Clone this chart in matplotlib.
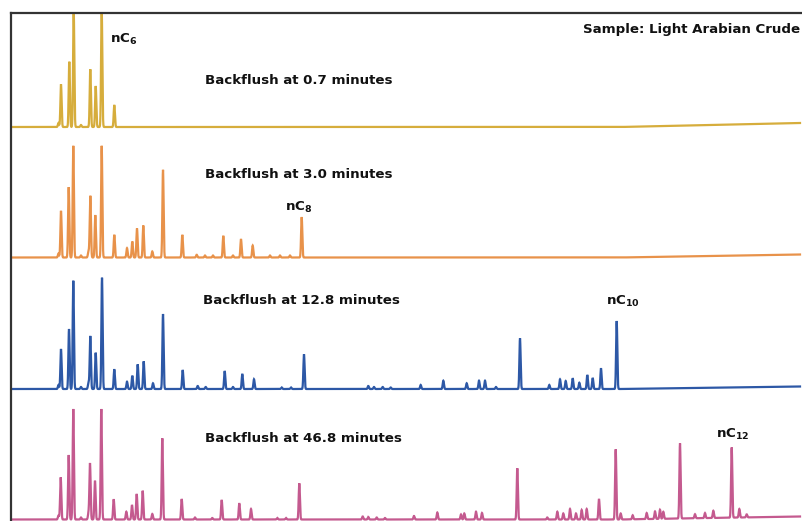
import numpy as np
import matplotlib
matplotlib.use("Agg")
import matplotlib.pyplot as plt

W, H = 803, 521
plt.rcParams['font.family'] = ['DejaVu Sans']
plt.rcParams['mathtext.fontset'] = 'dejavusans'

# ---- data: peak retention positions (arbitrary time units) and heights ----
yellow_pos = [58.5, 61, 69.3, 73.7, 81, 90.3, 95.7, 101.7, 114.3]
yellow_h = [4, 42.7, 65.3, 118, 2, 57.7, 41, 118, 22]

orange_pos = [58.5, 61, 68.7, 73.3, 81, 88.5, 90.3, 95.3, 101.7, 114.3, 127, 132.3, 137, 143.3,
              152.3, 163, 182.3, 196.7, 205, 213, 223.3, 233, 241, 252.7, 270, 280, 290, 301.7]
orange_h = [4, 46.7, 70.4, 111.7, 2, 6, 61.7, 42.4, 111.7, 22.7, 9.4, 16, 29, 32,
            6, 87.7, 22.7, 2.7, 2, 2, 21.7, 2, 18.4, 12, 2, 2, 2, 40.4]

blue_pos = [58.5, 61, 69, 73.3, 81, 88.5, 90.3, 95.7, 102, 114.3, 127, 132.3, 137.7, 143.7, 153,
            163, 182.7, 197.7, 205.7, 224.7, 233, 242.3, 254, 281.7, 291, 304, 368.3, 374,
            382.7, 390.7, 420.7, 443.3, 466.7, 479, 485, 496, 520, 549.3, 560, 565.7, 572.7,
            579.3, 587.3, 592.7, 601, 616.7]
blue_h = [4, 40, 60, 108.3, 2, 6, 53, 36.3, 111.3, 19.7, 7.3, 13.3, 24.7, 27.7, 5.7,
          75, 19, 3, 2, 18, 2, 15, 9.7, 1.5, 1.5, 34.7, 3, 2,
          2, 1.5, 4, 8.3, 5.7, 8.3, 8.3, 2, 50.7, 4, 9.7, 8, 10.7,
          6.3, 14, 11, 20.7, 68]

pink_pos = [58.5, 60.7, 68.7, 73.3, 81, 88.5, 90, 95, 101.3, 113.7, 126.3, 132, 136.7, 142.7,
            152.3, 162.3, 181.7, 195, 212.3, 221.7, 239.3, 251, 277.3, 286, 299.3, 362.7,
            368.3, 376.7, 385, 414, 437.3, 461, 464.3, 476, 482, 517.3, 547.3, 557.3, 563.3,
            570, 576, 581.7, 586.7, 599, 615.7, 620.7, 632.7, 646.7, 655, 660, 663.3, 680,
            695, 705, 713.3, 731.7, 739.3, 746.7]
pink_h = [4, 42.2, 64.5, 110.5, 2, 6, 56.2, 38.8, 110.5, 20.2, 7.8, 14.5, 25.5, 28.8,
          5.5, 81.2, 20.5, 2, 1.5, 19.5, 16.2, 10.5, 1.5, 1.5, 36.2, 3,
          2.5, 2, 1.5, 3.5, 7, 5, 6, 7.8, 6.5, 51.2, 2, 7.8, 6,
          10.5, 6, 9.5, 10.5, 20.5, 70.2, 6, 4, 6, 7.5, 9, 7, 75.2,
          4, 5, 7.2, 70.2, 8.5, 3]

baseline_rise = [4, 3, 2.5, 3]   # baseline drift reached at the end of the run

labels = ["Backflush at 0.7 minutes", "Backflush at 3.0 minutes",
          "Backflush at 12.8 minutes", "Backflush at 46.8 minutes"]
carbon_labels = [r"nC$_{\mathbf{6}}$", r"nC$_{\mathbf{8}}$", r"nC$_{\mathbf{10}}$", r"nC$_{\mathbf{12}}$"]
sample_label = "Sample: Light Arabian Crude"

colors = ["#d6ad3c", "#e8924a", "#2d58a6", "#c45a8f"]

# ---- figure ----
fig = plt.figure(figsize=(W / 100, H / 100), dpi=100)

def fx(px):
    return px / W

def fy(py):
    return 1 - py / H

x0, x1 = 11, 803
baselines_px = [127, 257.5, 389, 519.5]
unit_px = 115.0

t = np.arange(x0, x1, 0.1)
series = [(yellow_pos, yellow_h), (orange_pos, orange_h), (blue_pos, blue_h), (pink_pos, pink_h)]

for i, (pos, hts) in enumerate(series):
    bpx = baselines_px[i]
    ax = fig.add_axes([fx(x0), fy(bpx) - 1.5 / H, fx(x1) - fx(x0), unit_px / H])
    ax.set_xlim(x0, x1)
    ax.set_ylim(-1.5, unit_px - 1.5)
    ax.axis('off')
    y = np.zeros_like(t)
    for p, h in zip(pos, hts):
        y += h * np.exp(-0.5 * ((t - p) / 0.6) ** 2)
    drift = np.clip((t - 620) / (800 - 620), 0, None) * baseline_rise[i]
    y += drift
    mask = t <= 800
    ax.plot(t[mask], y[mask], color=colors[i], lw=1.6, solid_joinstyle='miter')

# frame
frame = fig.add_axes([fx(x0), 0, 1 - fx(x0), fy(13)])
frame.patch.set_alpha(0)
frame.set_xticks([]); frame.set_yticks([])
for s in ['right', 'bottom']:
    frame.spines[s].set_visible(False)
for s in ['left', 'top']:
    frame.spines[s].set_color('#333333')
    frame.spines[s].set_linewidth(1.6)

fs = 9.6
txt = dict(fontweight='bold', fontsize=fs, color='#111111', va='center', ha='left')
label_xy = [(205, 80), (205, 175), (203, 300), (205, 439)]
for (lx, ly), lab in zip(label_xy, labels):
    fig.text(fx(lx), fy(ly), lab, **txt)

carbon_xy = [(110, 39), (285, 207), (606, 301), (716, 434)]
for (cx, cy), lab in zip(carbon_xy, carbon_labels):
    fig.text(fx(cx), fy(cy), lab, **txt)

fig.text(fx(800), fy(29), sample_label, **{**txt, 'ha': 'right'})

fig.savefig("out.png", dpi=100)
